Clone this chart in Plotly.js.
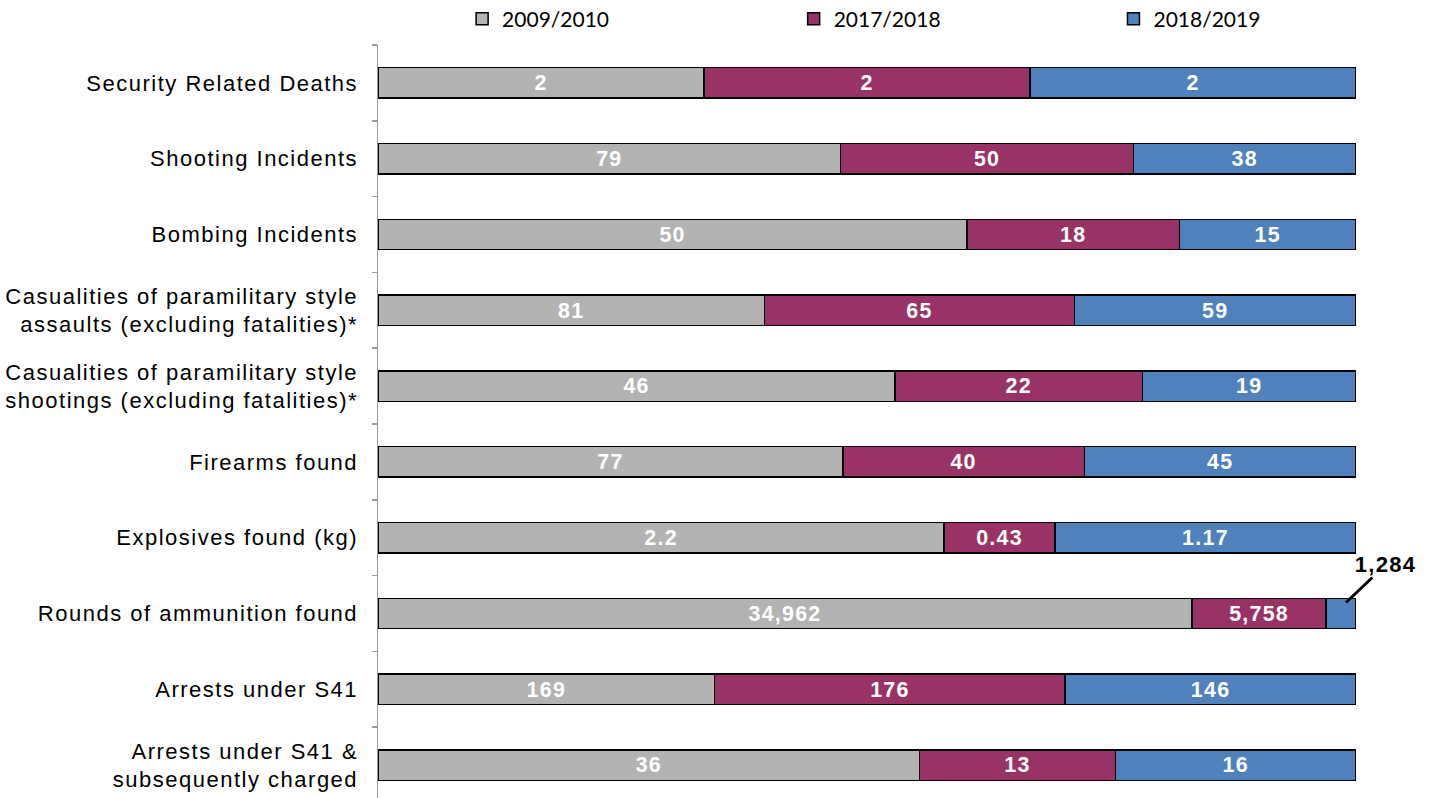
<!DOCTYPE html>
<html>
<head>
<meta charset="utf-8">
<script src="https://cdn.plot.ly/plotly-3.0.1.min.js"></script>
<style>
html,body{margin:0;padding:0;background:#fff;overflow:hidden;}
#chart{width:1435px;height:798px;overflow:hidden;}
#chart .ytick text{letter-spacing:1.5px;}
#chart .bartext{letter-spacing:1.3px;}
#chart .annotation-text{letter-spacing:1.3px;}
</style>
</head>
<body>
<div id="chart"></div>
<script>
const categories = [
  "Security Related Deaths",
  "Shooting Incidents",
  "Bombing Incidents",
  "Casualities of paramilitary style<br>assaults (excluding fatalities)*",
  "Casualities of paramilitary style<br>shootings (excluding fatalities)*",
  "Firearms found",
  "Explosives found (kg)",
  "Rounds of ammunition found",
  "Arrests under S41",
  "Arrests under S41 &<br>subsequently charged"
];
const seriesNames = ["2009/2010", "2017/2018", "2018/2019"];
const v2009 = [2, 79, 50, 81, 46, 77, 2.2, 34962, 169, 36];
const v2017 = [2, 50, 18, 65, 22, 40, 0.43, 5758, 176, 13];
const v2018 = [2, 38, 15, 59, 19, 45, 1.17, 1284, 146, 16];
const labels2009 = ["2", "79", "50", "81", "46", "77", "2.2", "34,962", "169", "36"];
const labels2017 = ["2", "50", "18", "65", "22", "40", "0.43", "5,758", "176", "13"];
const labels2018 = ["2", "38", "15", "59", "19", "45", "1.17", "1,284", "146", "16"];
const colors = ["#b3b3b3", "#993366", "#4f81bd"];

// label of the small segment is drawn outside with a leader line
const outsideIndex = 7;
const insideLabels2018 = labels2018.map((t, i) => i === outsideIndex ? "" : t);

function mk(vals, txt, name, color, legendId) {
  return {
    type: "bar", orientation: "h", y: categories, x: vals, name: name,
    legend: legendId,
    text: txt, textposition: "inside", insidetextanchor: "middle", textangle: 0,
    textfont: {family: "Liberation Sans, Arial, sans-serif", size: 22, color: "#ffffff", weight: "bold"},
    marker: {color: color, line: {color: "#000000", width: 1.5}},
    hoverinfo: "skip"
  };
}
const data = [
  mk(v2009, labels2009, seriesNames[0], colors[0], "legend"),
  mk(v2017, labels2017, seriesNames[1], colors[1], "legend2"),
  mk(v2018, insideLabels2018, seriesNames[2], colors[2], "legend3")
];

const tot = v2009[outsideIndex] + v2017[outsideIndex] + v2018[outsideIndex];
const blueMid = 100 - (v2018[outsideIndex] / tot) * 100 / 3;

const legendBase = {
  orientation: "h", xanchor: "left", y: 1.0343, yanchor: "middle", yref: "paper",
  font: {family: "Lato, sans-serif", size: 21, color: "#000"},
  bgcolor: "rgba(0,0,0,0)"
};

const layout = {
  width: 1435, height: 803,
  margin: {l: 378, r: 79, t: 45, b: 0, autoexpand: false},
  barmode: "stack", barnorm: "percent", bargap: 0.6,
  paper_bgcolor: "#ffffff", plot_bgcolor: "#ffffff",
  showlegend: true,
  legend: Object.assign({}, legendBase, {x: 0.086}),
  legend2: Object.assign({}, legendBase, {x: 0.425}),
  legend3: Object.assign({}, legendBase, {x: 0.752}),
  xaxis: {visible: false, range: [0, 100], fixedrange: true},
  yaxis: {
    autorange: "reversed", type: "category",
    showline: true, linecolor: "#999999", linewidth: 1.5,
    ticks: "outside", tickson: "boundaries", ticklen: 5, tickcolor: "#999999", tickwidth: 1.5,
    ticklabelstandoff: 14,
    tickfont: {family: "Liberation Sans, Arial, sans-serif", size: 22, color: "#000"},
    showgrid: false, zeroline: false
  },
  annotations: [{
    x: blueMid, y: categories[outsideIndex], xref: "x", yref: "y",
    text: "<b>" + labels2018[outsideIndex] + "</b>",
    showarrow: true, arrowhead: 0, arrowwidth: 3, arrowcolor: "#000",
    ax: 40, ay: -38, yshift: 11, borderpad: 0,
    font: {family: "Liberation Sans, Arial, sans-serif", size: 22, color: "#000"}
  }]
};
Plotly.newPlot("chart", data, layout, {displayModeBar: false, staticPlot: true});
</script>
</body>
</html>
